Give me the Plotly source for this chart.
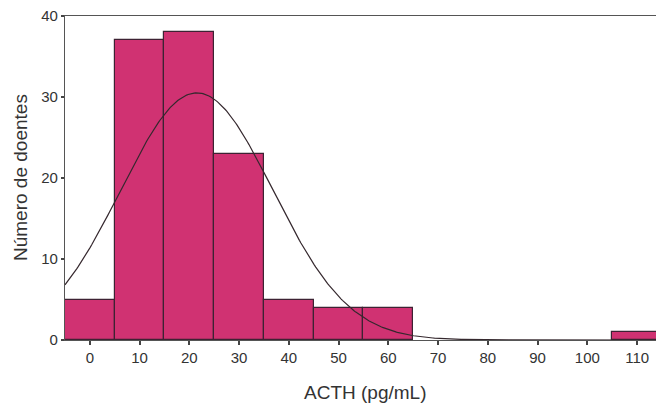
import numpy as np
import plotly.graph_objects as go

# Histogram of ACTH values (bin centres, 10 pg/mL wide) and counts of patients
bin_centres = [0, 10, 20, 30, 40, 50, 60, 110]
counts = [5, 37, 38, 23, 5, 4, 4, 1]
bin_width = 10

# Fitted normal curve parameters
curve_mean = 21.5
curve_sd = 15.3

x_ticks = [0, 10, 20, 30, 40, 50, 60, 70, 80, 90, 100, 110]
y_ticks = [0, 10, 20, 30, 40]

n_total = sum(counts)
xs = np.linspace(-5, 114, 400)
ys = n_total * bin_width / (curve_sd * np.sqrt(2 * np.pi)) * np.exp(-0.5 * ((xs - curve_mean) / curve_sd) ** 2)

fig = go.Figure()
fig.add_trace(go.Bar(
    x=bin_centres, y=counts, width=bin_width,
    marker=dict(color="#d03272", line=dict(color="#3d2233", width=1.2)),
    hoverinfo="skip",
))
fig.add_trace(go.Scatter(
    x=xs, y=ys, mode="lines",
    line=dict(color="#35282e", width=1.2),
    hoverinfo="skip",
))

tick_font = dict(family="Liberation Sans, Arial, sans-serif", size=15, color="#333333")
title_font = dict(family="Liberation Sans, Arial, sans-serif", size=19, color="#333333")

fig.update_layout(
    width=656, height=408,
    margin=dict(l=65, r=0, t=16, b=68),
    paper_bgcolor="white", plot_bgcolor="white",
    showlegend=False, bargap=0,
    xaxis=dict(
        range=[-5, 113.8], tickvals=x_ticks, ticks="outside", ticklen=4,
        tickcolor="#444", tickwidth=2, showgrid=False, zeroline=False,
        showline=True, linecolor="#555", linewidth=1.2, mirror=True,
        tickfont=tick_font,
    ),
    yaxis=dict(
        range=[0, 40], tickvals=y_ticks, ticks="outside", ticklen=3,
        tickcolor="#444", tickwidth=2, showgrid=False, zeroline=False,
        showline=True, linecolor="#555", linewidth=1.2,
        tickfont=tick_font,
    ),
    annotations=[
        dict(text="Número de doentes", xref="paper", yref="paper", x=0, y=0.5,
             xshift=-45, textangle=-90, showarrow=False,
             xanchor="center", yanchor="middle", font=title_font),
        dict(text="ACTH (pg/mL)", xref="paper", yref="paper", x=0.5076, y=0,
             yshift=-52, showarrow=False, xanchor="center", yanchor="middle",
             font=title_font),
    ],
)

fig.write_html("out.html")
